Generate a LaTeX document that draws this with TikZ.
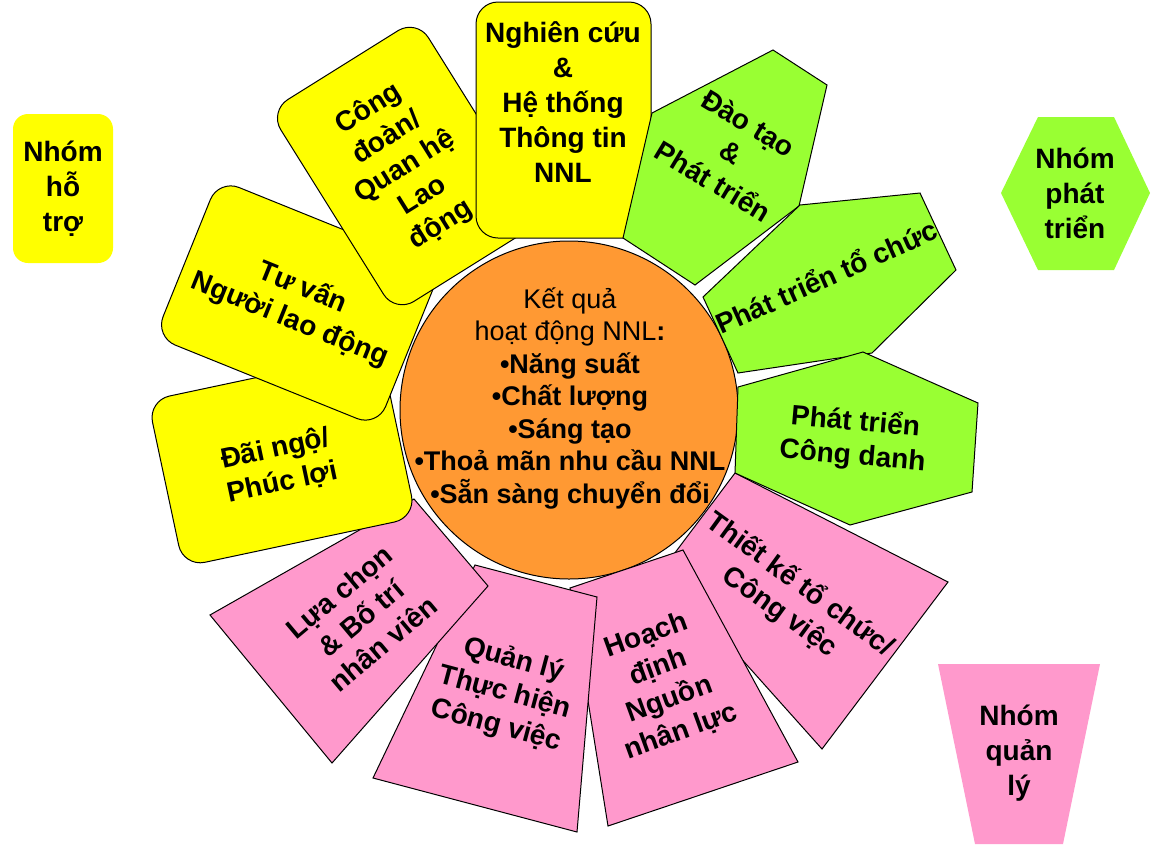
\documentclass[tikz,border=0pt]{standalone}
\usepackage{fontspec}
\setmainfont{Liberation Sans}
\definecolor{petalyellow}{HTML}{FFFF00}
\definecolor{petalgreen}{HTML}{99FF33}
\definecolor{petalpink}{HTML}{FF99CC}
\definecolor{coreorange}{HTML}{FF9933}
\tikzset{
  every node/.style={font=\bfseries\fontsize{28}{34}\selectfont, align=center, inner sep=0pt},
  outline/.style={draw=black, line width=1pt},
  ycard/.style={outline, fill=petalyellow, rounded corners=22pt},
  gcard/.style={outline, fill=petalgreen},
  pcard/.style={outline, fill=petalpink},
  keytext/.style={font=\bfseries\fontsize{28}{35}\selectfont},
  coretext/.style={font=\bfseries\fontsize{27}{32.5}\selectfont}
}
\begin{document}
\begin{tikzpicture}[x=1pt, y=-1pt]
\useasboundingbox (0,0) rectangle (1151,844);

% centre
\node[outline, fill=coreorange, circle, minimum size=338pt] (core) at (569,410) {};
\node[coretext] (coretxt) at (570,398) {{\mdseries Kết quả}\\{\mdseries hoạt động NNL}:\\•Năng suất\\•Chất lượng\\•Sáng tạo\\•Thoả mãn nhu cầu NNL\\•Sẵn sàng chuyển đổi};

% nhom quan ly
\draw[pcard] (735,473) -- (948,582) -- (822,749) -- (662,570) -- cycle;
\node[rotate=-36] (design) at (790,598) {Thiết kế tổ chức/\\Công việc};
\draw[pcard] (570,588) -- (683,550) -- (798,762) -- (608,826) -- cycle;
\node[rotate=20] (plan) at (664,684) {Hoạch\\định\\Nguồn\\nhân lực};
\draw[pcard] (475,565) -- (597,597) -- (577,832) -- (373,778) -- cycle;
\node[rotate=-15] (perform) at (505,693) {Quản lý\\Thực hiện\\Công việc};
\draw[pcard] (414,499) -- (488,586) -- (332,763) -- (210,615) -- cycle;
\node[rotate=40] (select) at (361,618) {Lựa chọn\\\& Bố trí\\nhân viên};

% nhom ho tro
\node[ycard, minimum width=238pt, minimum height=170pt, rotate=12] (reward) at (282,459) {};
\node[rotate=12] (rewardtxt) at (279,466) {Đãi ngộ/\\Phúc lợi};
\node[ycard, minimum width=240pt, minimum height=170pt, rotate=-22] (counsel) at (298,303) {};
\node[rotate=-22] (counseltxt) at (296,304) {Tư vấn\\Người lao động};
\node[ycard, minimum width=174pt, minimum height=238pt, rotate=32] (union) at (406,166) {};
\node[rotate=32] (uniontxt) at (405,167) {Công\\đoàn/\\Quan hệ\\Lao\\động};
\node[ycard, minimum width=175pt, minimum height=236pt] (research) at (563.5,120) {};
\node[keytext] (researchtxt) at (563,102) {Nghiên cứu\\\&\\Hệ thống\\Thông tin\\NNL};

% nhom phat trien
\draw[gcard] (773,50) -- (827,85) -- (799,206) -- (695,285) -- (623,238) -- (652,113) -- cycle;
\node[rotate=-31] (training) at (731,152) {Đào tạo\\\&\\Phát triển};
\draw[gcard] (703,297) -- (800,205) -- (920,193) -- (956,270) -- (872,353) -- (738,373) -- cycle;
\node[rotate=24] (orgdev) at (826,276) {Phát triển tổ chức};
\draw[gcard] (738,387) -- (863,352) -- (978,403) -- (972,492) -- (850,525) -- (735,473) -- cycle;
\node[rotate=-5] (career) at (854,439) {Phát triển\\Công danh};

% chu giai
\node[keytext, fill=petalyellow, rounded corners=15pt, minimum width=100pt, minimum height=149pt] (supportkey) at (63,188.5) {Nhóm\\hỗ\\trợ};
\fill[petalgreen] (1001,193) -- (1038,117) -- (1114,117) -- (1150,193) -- (1114,270) -- (1038,270) -- cycle;
\node[keytext] (growkey) at (1075,193) {Nhóm\\phát\\triển};
\fill[petalpink] (938,664) -- (1100,664) -- (1063,844) -- (975,844) -- cycle;
\node[keytext] (managekey) at (1019,753) {Nhóm\\quản\\lý};
\end{tikzpicture}
\end{document}
